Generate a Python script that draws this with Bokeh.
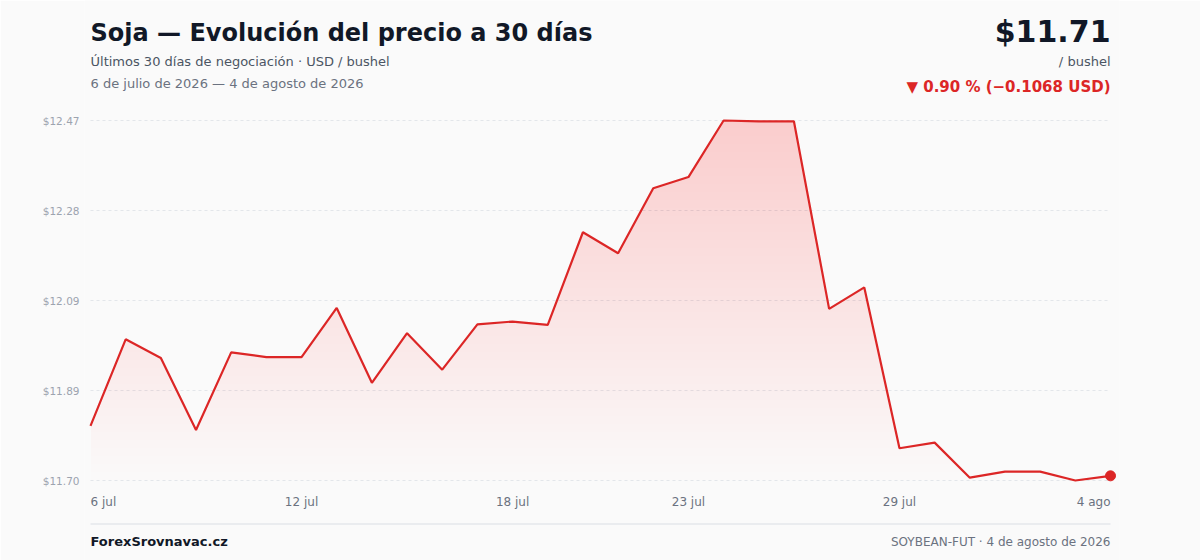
import numpy as np
from bokeh.plotting import figure
from bokeh.models import Range1d, FixedTicker, Label, ColumnDataSource
from bokeh.core.properties import value
from bokeh.embed import file_html
from bokeh.resources import INLINE

# ---------------- data ----------------
prices = [11.8168, 12.002, 11.962, 11.808, 11.974, 11.964, 11.964, 12.069, 11.909, 12.015,
          11.937, 12.034, 12.040, 12.033, 12.231, 12.186, 12.325, 12.349, 12.470, 12.468,
          12.468, 12.067, 12.113, 11.769, 11.781, 11.706, 11.719, 11.719, 11.700, 11.710]
day_index = list(range(len(prices)))
x_tick_index = [0, 6, 12, 17, 23, 29]
x_tick_labels = ["6 jul", "12 jul", "18 jul", "23 jul", "29 jul", "4 ago"]
y_ticks = [11.70, 11.8925, 12.085, 12.2775, 12.47]
y_tick_labels = ["$11.70", "$11.89", "$12.09", "$12.28", "$12.47"]

title_text = "Soja — Evolución del precio a 30 días"
subtitle_text = "Últimos 30 días de negociación · USD / bushel"
period_text = "6 de julio de 2026 — 4 de agosto de 2026"
price_text = "$11.71"
unit_text = "/ bushel"
change_text = "▼ 0.90 % (−0.1068 USD)"
brand_text = "ForexSrovnavac.cz"
source_text = "SOYBEAN-FUT · 4 de agosto de 2026"

# ---------------- layout (picture pixels) ----------------
FONT = "DejaVu Sans"
W, H = 1200, 560
FL, FR, FT, FB = 84, 1119, 0, 560             # frame edges
X0, X1, YLO, YHI = 90, 1110, 480, 120         # data box
BASE_SHIFT = 0.38                             # baseline correction (x font size)
lo, hi = y_ticks[0], y_ticks[-1]
xs_per = (X1 - X0) / (day_index[-1] - day_index[0])
ys_per = (YLO - YHI) / (hi - lo)
x_start = day_index[0] - (X0 - FL) / xs_per
x_end = day_index[-1] + (FR - X1) / xs_per
y_start = lo - (FB - YLO) / ys_per
y_end = hi + (YHI - FT) / ys_per


def dy(Y):
    return lo + (YLO - Y) / ys_per


p = figure(width=W, height=H, output_backend="svg", toolbar_location=None,
           x_range=Range1d(x_start, x_end), y_range=Range1d(y_start, y_end),
           min_border_left=FL, min_border_right=W - FR,
           min_border_top=FT, min_border_bottom=H - FB)
p.background_fill_color = "#fafafa"
p.border_fill_color = "#fafafa"
p.outline_line_color = None
p.xgrid.visible = False
p.ygrid.visible = False
p.xaxis.visible = False

yax = p.yaxis[0]
yax.ticker = FixedTicker(ticks=y_ticks)
yax.major_label_overrides = {t: l for t, l in zip(y_ticks, y_tick_labels)}
yax.axis_line_color = None
yax.major_tick_line_color = None
yax.minor_tick_line_color = None
yax.major_tick_out = 0
yax.major_tick_in = 0
yax.major_label_standoff = FL - 79
yax.major_label_text_font = FONT
yax.major_label_text_font_size = "10.5px"
yax.major_label_text_color = "#9ca3af"

# grid lines (dotted) spanning the data days
p.segment(x0=day_index[0], x1=day_index[-1], y0=y_ticks, y1=y_ticks,
          line_color="#e3e6ea", line_width=1, line_dash="3 3")

# gradient fill under the curve: nested layers
xs = np.array(day_index, dtype=float)
ys = np.array(prices, dtype=float)
N = 45
top_alpha = 0.22
a = 1 - (1 - top_alpha) ** (1.0 / N)
for b in np.linspace(lo, hi, N, endpoint=False):
    xn = [xs[0]]
    for i in range(len(xs) - 1):
        y0, y1 = ys[i], ys[i + 1]
        if (y0 - b) * (y1 - b) < 0:
            xn.append(xs[i] + (b - y0) / (y1 - y0) * (xs[i + 1] - xs[i]))
        xn.append(xs[i + 1])
    xn = np.array(xn)
    yt = np.interp(xn, xs, ys)
    p.varea(x=xn, y1=np.full_like(xn, b), y2=np.maximum(yt, b),
            fill_color="#ef4444", fill_alpha=a)

p.line(day_index, prices, line_color="#dc2626", line_width=2.2)
p.scatter([day_index[-1]], [prices[-1]], size=10, color="#dc2626")

# x tick labels
aligns = ["left"] + ["center"] * (len(x_tick_labels) - 2) + ["right"]
src = ColumnDataSource(dict(x=x_tick_index,
                            y=[dy(506 - BASE_SHIFT * 12)] * len(x_tick_index),
                            t=x_tick_labels, al=aligns))
p.text(x="x", y="y", text="t", text_align="al", source=src,
       text_baseline="alphabetic", text_font=value(FONT),
       text_font_size="12px", text_color="#6b7280")

# footer separator
p.segment(x0=day_index[0], x1=day_index[-1], y0=dy(523.5), y1=dy(523.5),
          line_color="#e5e7eb", line_width=1.5)


def label(text, X, Y, size, color, bold=False, align="left"):
    Yc = Y - BASE_SHIFT * size
    p.add_layout(Label(x=X - FL, y=FB - Yc, x_units="screen", y_units="screen",
                       text=text, text_font=FONT, text_font_size=f"{size}px",
                       text_font_style="bold" if bold else "normal",
                       text_color=color, text_align=align,
                       text_baseline="alphabetic"))


label(title_text, 90, 42, 24, "#111827", bold=True)
label(subtitle_text, 90, 66, 13, "#4b5563")
label(period_text, 90, 88, 13, "#6b7280")
label(price_text, 1110, 42, 30, "#111827", bold=True, align="right")
label(unit_text, 1110, 66, 13, "#4b5563", align="right")
label(change_text, 1110, 92, 15, "#dc2626", bold=True, align="right")
label(brand_text, 90, 546, 13, "#111827", bold=True)
label(source_text, 1110, 546, 12, "#6b7280", align="right")

open("out.html", "w").write(file_html(p, INLINE))
